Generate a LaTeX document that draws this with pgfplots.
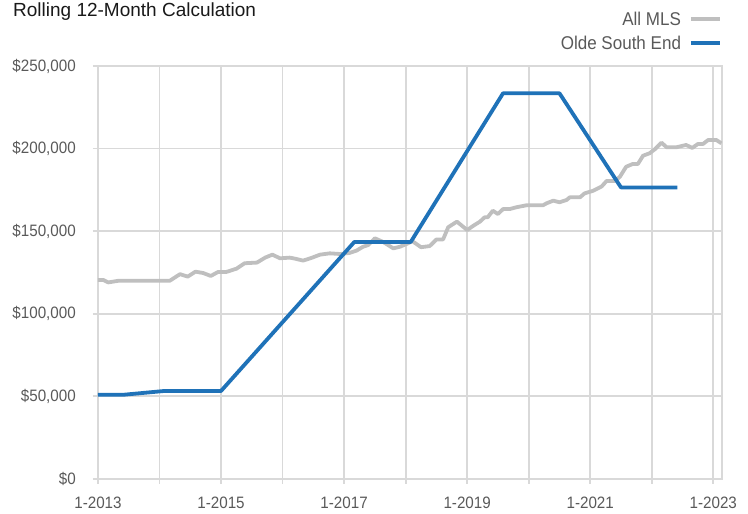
\documentclass[border=0pt]{standalone}
\usepackage{fontspec}
\setmainfont{Liberation Sans}
\newfontfamily\narrowfont[FakeStretch=0.92]{Liberation Sans}
\usepackage{pgfplots}
\pgfplotsset{compat=1.18}
\definecolor{gridc}{RGB}{217,217,217}
\definecolor{mlsc}{RGB}{191,191,191}
\definecolor{osec}{RGB}{31,114,184}
\definecolor{labc}{RGB}{89,89,89}
\definecolor{titc}{RGB}{25,25,25}
\begin{document}
\begin{tikzpicture}
\begin{axis}[
  at={(0,0)}, anchor=south west,
  scale only axis, width=624pt, height=413pt,
  xmin=0, xmax=121.7, ymin=0, ymax=250,
  xtick={0,12,...,120},
  xticklabels={1-2013,,1-2015,,1-2017,,1-2019,,1-2021,,1-2023},
  ytick={0,50,...,250},
  yticklabels={\$0,{\$50,000},{\$100,000},{\$150,000},{\$200,000},{\$250,000}},
  xmajorgrids, ymajorgrids,
  grid style={gridc, line width=1.8pt},
  axis line style={gridc, line width=1.8pt},
  tick style={gridc, line width=1.8pt},
  tick align=outside, major tick length=5pt,
  xtick pos=bottom, ytick pos=left,
  ticklabel style={font=\narrowfont\fontsize{16.5}{16.5}\selectfont, text=labc, inner sep=0pt},
  yticklabel style={anchor=east, xshift=-17pt},
  xticklabel style={anchor=north, yshift=-13pt},
  legend style={at={(axis description cs:1,1)}, anchor=south east, yshift=15.4pt,
    draw=none, fill=none, inner sep=0pt, row sep=8.5pt,
    font=\narrowfont\fontsize{18.5}{18.5}\selectfont, text=labc,
    nodes={inner sep=1pt, text height=13.5pt, text depth=0pt},
    /tikz/every odd column/.append style={column sep=7pt}},
  legend cell align=right,
  legend plot pos=right,
  legend image code/.code={\draw[#1] (0pt,0pt) -- (29pt,0pt);},
]
\addplot[mlsc, line width=3.8pt, line join=round] coordinates {
(0,120.5) (1,120.5) (2,119) (4,120) (8,120) (12,120) (14,120) (16,124) (17.5,122.5)
(19,125.5) (20.5,124.7) (22,122.9) (23.4,125.3) (25,125.3) (27,127.3) (28.6,130.6)
(31,131) (32.6,134) (34,135.8) (35.5,133.6) (37.4,134) (38.4,133.4) (40,132.2)
(41.6,133.8) (43.3,135.8) (45.2,136.6) (47.2,136.2) (49,136.8) (50.4,138.2)
(51.7,140.6) (52.7,141.6) (54,145.7) (55.6,143.5) (57.6,139.6) (58.9,140.6)
(60.5,142.7) (61.3,144) (63,140.3) (64.7,141) (66,145) (67.3,145) (68.3,152.4)
(70,155.8) (72,150.7) (73.2,153.3) (74.5,155.8) (75.4,158.4) (76,158.4) (77,162.4)
(78,160.4) (79,163.4) (80.3,163.4) (81.6,164.5) (83.6,165.7) (86.8,165.7)
(87.5,166.9) (88.8,168.5) (90,167.5) (91.4,168.9) (92,170.5) (94,170.5)
(94.9,172.9) (96.6,174.5) (98.2,177) (99.2,180.4) (100.8,180.4) (101.8,183)
(103,189) (104.3,190.7) (105.3,190.7) (106.3,195.7) (107.6,197.2) (108.6,199.6)
(109.9,203.6) (110.9,200.8) (112.8,200.8) (114.7,202.2) (115.9,200.4) (117,202.8)
(118,202.8) (119,205.2) (120.6,205.2) (121.6,203.2)
};
\addlegendentry{All MLS}
\addplot[osec, line width=3.8pt, line join=round] coordinates {
(0,51) (5,51) (13,53.3) (24,53.3) (50,143.5) (61,143.5) (79,233.5) (90,233.5)
(102,176.5) (113,176.5)
};
\addlegendentry{Olde South End}
\end{axis}
\node[anchor=north west, inner sep=0pt, font=\fontsize{19}{19}\selectfont, text=titc]
  at (-85pt,476pt) {Rolling 12-Month Calculation};
\pgfresetboundingbox
\path[use as bounding box] (-98pt,-35pt) rectangle (650pt,479pt);
\end{tikzpicture}
\end{document}
